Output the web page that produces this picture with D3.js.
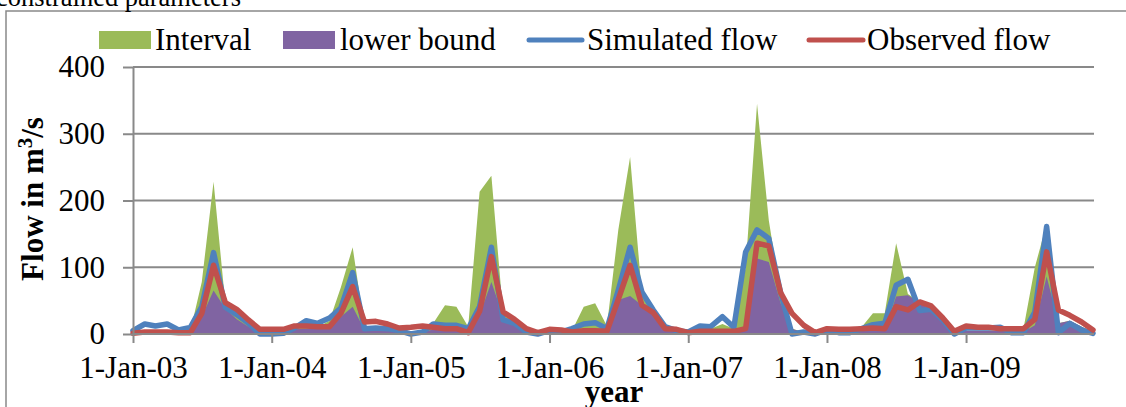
<!DOCTYPE html>
<html>
<head>
<meta charset="utf-8">
<script src="https://cdn.jsdelivr.net/npm/d3@7/dist/d3.min.js"></script>
<style>
  html, body { margin: 0; padding: 0; background: #fff; }
  svg { display: block; }
  text { font-family: "Liberation Serif", "Times New Roman", serif; fill: #000; }
</style>
</head>
<body>
<svg id="chart" width="1126" height="407"></svg>
<script>
// ---- Data (monthly, Jan 2003 – Dec 2009) ----
const seriesNames = ["Interval", "lower bound", "Simulated flow", "Observed flow"];
const tickLabels = ["1-Jan-03", "1-Jan-04", "1-Jan-05", "1-Jan-06", "1-Jan-07", "1-Jan-08", "1-Jan-09"];
const yTicks = [0, 100, 200, 300, 400];

const upperBound = [3,4,4,4,3,5,78,228,45,30,15,2,
                    2,3,8,12,10,20,70,130,10,10,8,5,
                    3,5,16,43,41,11,213,237,30,20,5,2,
                    4,4,5,41,46,12,156,265,60,30,6,3,
                    3,6,8,15,8,100,345,170,60,8,3,2,
                    4,4,5,10,31,31,136,60,48,36,18,2,
                    5,5,5,5,5,8,100,165,16,20,11,3];
const lowerBound = [0,1,1,1,1,1,26,65,38,22,11,0,
                    0,1,7,8,8,9,26,41,6,6,5,3,
                    0,2,7,8,8,5,28,78,26,13,3,0,
                    3,2,3,5,5,5,51,57,43,28,5,3,
                    1,3,3,3,3,8,113,108,46,8,2,0,
                    3,2,2,5,6,6,56,58,47,36,18,0,
                    5,5,5,5,3,3,13,86,16,20,11,2];
const simulated = [5,15,12,15,6,10,41,122,40,29,16,0,
                   0,1,9,20,16,24,39,92,8,9,8,5,
                   0,3,15,13,13,8,41,130,21,16,3,0,
                   5,3,8,15,17,8,66,130,63,36,11,5,
                   3,12,11,26,10,123,156,143,62,0,3,0,
                   6,2,2,8,14,16,73,82,35,37,21,0,
                   9,9,9,10,2,2,33,161,2,16,6,1];
const observed = [1,3,3,3,2,2,31,103,47,37,21,7,
                  7,7,12,12,11,11,31,71,18,19,15,9,
                  10,12,10,8,8,2,34,116,33,22,8,2,
                  7,6,3,5,5,4,52,103,43,32,8,7,
                  2,4,4,4,4,8,136,132,62,31,13,2,
                  8,7,7,8,9,8,41,36,48,42,24,4,
                  12,10,10,8,8,8,22,123,36,28,18,6];

// categories: first of each month
const months = d3.timeMonth.range(new Date(2003, 0, 1), new Date(2010, 0, 1));
const tickDates = d3.timeYear.range(new Date(2003, 0, 1), new Date(2010, 0, 1));

const colors = { upper: "#9BBB59", lower: "#8064A2", sim: "#4F81BD", obs: "#C0504D" };
const gridColor = "#898989";
const FS = 31;

const svg = d3.select("#chart");
const plotL = 133, plotR = 1094, plotT = 67, plotB = 334;

const x = d3.scaleTime().domain([months[0], months[months.length - 1]]).range([plotL, 1093]);
const y = d3.scaleLinear().domain([0, 400]).range([plotB, plotT]);

// outer frame
svg.append("path")
  .attr("d", `M6,407 L6,11 L1126,11`)
  .attr("fill", "none").attr("stroke", gridColor).attr("stroke-width", 1.5);

// title (cut off at the top edge, as in the source image)
svg.append("text").attr("x", -4).attr("y", 6)
  .attr("font-size", 26.5).text("constrained parameters");

// gridlines
svg.append("g").selectAll("line")
  .data(yTicks.filter(d => d > 0))
  .join("line")
  .attr("x1", plotL).attr("x2", plotR)
  .attr("y1", d => y(d)).attr("y2", d => y(d))
  .attr("stroke", gridColor).attr("stroke-width", 2);

// areas
const area = d3.area().x((d, i) => x(months[i])).y0(y(0)).y1(d => y(d));
svg.append("path").datum(upperBound).attr("d", area).attr("fill", colors.upper);
svg.append("path").datum(lowerBound).attr("d", area).attr("fill", colors.lower);

// lines
const line = d3.line().x((d, i) => x(months[i])).y(d => y(d));
svg.append("path").datum(simulated).attr("d", line)
  .attr("fill", "none").attr("stroke", colors.sim).attr("stroke-width", 5.5)
  .attr("stroke-linejoin", "round").attr("stroke-linecap", "round");
svg.append("path").datum(observed).attr("d", line)
  .attr("fill", "none").attr("stroke", colors.obs).attr("stroke-width", 5.5)
  .attr("stroke-linejoin", "round").attr("stroke-linecap", "round");

// y axis
const yAxis = svg.append("g").attr("transform", `translate(${plotL},0)`)
  .call(d3.axisLeft(y).tickValues(yTicks).tickSize(10).tickSizeOuter(0).tickPadding(18));
yAxis.select(".domain").attr("stroke", gridColor).attr("stroke-width", 2);
yAxis.selectAll(".tick line").attr("stroke", gridColor).attr("stroke-width", 2);
yAxis.selectAll(".tick text").attr("font-size", FS)
  .attr("font-family", '"Liberation Serif", "Times New Roman", serif').attr("fill", "#000");

// x axis
const xAxis = svg.append("g").attr("transform", `translate(0,${plotB})`)
  .call(d3.axisBottom(x).tickValues(tickDates).tickFormat((d, i) => tickLabels[i])
    .tickSize(9).tickSizeOuter(0).tickPadding(13));
xAxis.select(".domain").attr("d", `M${plotL},0H${plotR}`).attr("stroke", gridColor).attr("stroke-width", 2);
xAxis.selectAll(".tick line").attr("stroke", gridColor).attr("stroke-width", 2);
xAxis.selectAll(".tick text").attr("font-size", FS)
  .attr("font-family", '"Liberation Serif", "Times New Roman", serif').attr("fill", "#000");

// axis titles
svg.append("text").attr("x", 614).attr("y", 402).attr("text-anchor", "middle")
  .attr("font-size", FS).attr("font-weight", "bold").text("year");

const yt = svg.append("text").attr("transform", "translate(43,199) rotate(-90)")
  .attr("text-anchor", "middle").attr("font-size", FS).attr("font-weight", "bold");
yt.append("tspan").text("Flow in m");
yt.append("tspan").attr("font-size", 21).attr("dy", -11).text("3");
yt.append("tspan").attr("dy", 11).text("/s");

// legend
const legend = svg.append("g");
const legendItems = [
  { name: seriesNames[0], type: "rect", color: colors.upper, x0: 99, x1: 151, tx: 155 },
  { name: seriesNames[1], type: "rect", color: colors.lower, x0: 283, x1: 335, tx: 340 },
  { name: seriesNames[2], type: "line", color: colors.sim, x0: 529, x1: 582, tx: 587 },
  { name: seriesNames[3], type: "line", color: colors.obs, x0: 809, x1: 863, tx: 867 }
];
legendItems.forEach(it => {
  if (it.type === "rect") {
    legend.append("rect").attr("x", it.x0).attr("y", 31).attr("width", it.x1 - it.x0)
      .attr("height", 18).attr("fill", it.color);
  } else {
    legend.append("line").attr("x1", it.x0).attr("x2", it.x1).attr("y1", 40).attr("y2", 40)
      .attr("stroke", it.color).attr("stroke-width", 5).attr("stroke-linecap", "round");
  }
  legend.append("text").attr("x", it.tx).attr("y", 50).attr("font-size", FS).text(it.name);
});
</script>
</body>
</html>
